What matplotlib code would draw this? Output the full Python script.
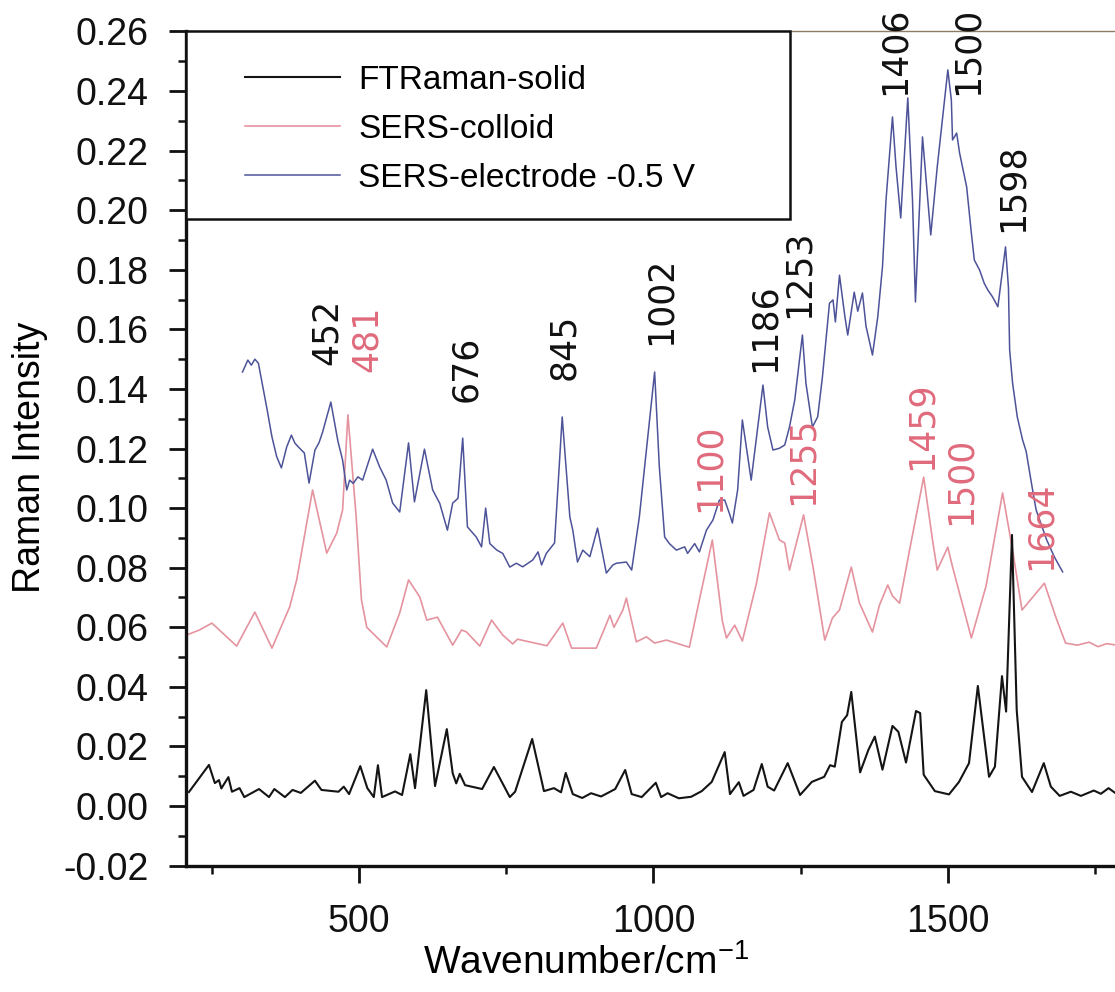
import matplotlib
matplotlib.use("Agg")
import matplotlib.pyplot as plt
from matplotlib.patches import Rectangle
from matplotlib.ticker import MultipleLocator, FixedLocator, FormatStrFormatter

plt.rcParams["font.family"] = ["Liberation Sans", "DejaVu Sans"]
plt.rcParams["axes.unicode_minus"] = False
plt.rcParams["mathtext.fontset"] = "custom"
plt.rcParams["mathtext.rm"] = "Liberation Sans"

# ---- spectra (wavenumber / cm-1, intensity) ----
solid_wn = [211, 245, 255, 262, 266, 278, 284, 297, 305, 330, 347, 356, 374, 387, 401,
            425, 436, 465, 474, 483, 502, 514, 525, 532, 539, 561, 573, 587, 595, 614,
            629, 649, 659, 665, 671, 680, 709, 729, 756, 765, 794, 814, 831, 843, 851,
            863, 879, 894, 911, 935, 952, 963, 980, 1004, 1013, 1024, 1043, 1064, 1082,
            1099, 1121, 1130, 1145, 1153, 1170, 1184, 1194, 1205, 1228, 1249, 1269, 1290,
            1300, 1308, 1320, 1329, 1336, 1351, 1365, 1376, 1389, 1406, 1416, 1429, 1446,
            1453, 1459, 1478, 1502, 1519, 1536, 1551, 1570, 1580, 1592, 1599, 1609, 1617,
            1626, 1643, 1663, 1675, 1690, 1709, 1726, 1748, 1760, 1773, 1787]
solid_int = [0.0047, 0.0138, 0.0077, 0.0087, 0.0059, 0.0097, 0.0048, 0.0060, 0.0030, 0.0057,
             0.0030, 0.0057, 0.0030, 0.0054, 0.0044, 0.0085, 0.0054, 0.0048, 0.0065, 0.0040,
             0.0134, 0.0060, 0.0030, 0.0137, 0.0030, 0.0049, 0.0037, 0.0174, 0.0060, 0.0389,
             0.0067, 0.0258, 0.0110, 0.0076, 0.0108, 0.0070, 0.0057, 0.0131, 0.0030, 0.0048,
             0.0225, 0.0050, 0.0060, 0.0046, 0.0111, 0.0040, 0.0027, 0.0043, 0.0032, 0.0057,
             0.0121, 0.0040, 0.0030, 0.0078, 0.0030, 0.0043, 0.0026, 0.0031, 0.0050, 0.0081,
             0.0181, 0.0040, 0.0080, 0.0034, 0.0054, 0.0141, 0.0065, 0.0052, 0.0144, 0.0037,
             0.0081, 0.0098, 0.0137, 0.0132, 0.0282, 0.0305, 0.0383, 0.0113, 0.0188, 0.0233,
             0.0122, 0.0269, 0.0249, 0.0146, 0.0319, 0.0312, 0.0105, 0.0050, 0.0039, 0.0081,
             0.0144, 0.0403, 0.0098, 0.0132, 0.0436, 0.0317, 0.0910, 0.0322, 0.0098, 0.0047,
             0.0144, 0.0065, 0.0034, 0.0048, 0.0034, 0.0052, 0.0041, 0.0060, 0.0040]

colloid_wn = [207, 229, 250, 292, 323, 352, 382, 394, 421, 445, 462, 472, 481, 495, 504,
              513, 547, 569, 584, 603, 615, 633, 659, 674, 682, 705, 725, 744, 761, 769,
              819, 846, 861, 903, 926, 933, 948, 954, 971, 988, 1002, 1022, 1061, 1078,
              1100, 1117, 1124, 1138, 1151, 1175, 1197, 1214, 1223, 1231, 1255, 1271, 1291,
              1304, 1316, 1336, 1350, 1372, 1384, 1398, 1406, 1418, 1435, 1459, 1474, 1482,
              1500, 1508, 1540, 1565, 1593, 1610, 1626, 1664, 1684, 1700, 1720, 1740, 1755,
              1770, 1787]
colloid_int = [0.0574, 0.0591, 0.0614, 0.0537, 0.0651, 0.0530, 0.0668, 0.0759, 0.1061, 0.0849,
               0.0916, 0.0994, 0.1313, 0.0971, 0.0692, 0.0600, 0.0534, 0.0648, 0.0759, 0.0702,
               0.0624, 0.0634, 0.0540, 0.0591, 0.0585, 0.0537, 0.0624, 0.0574, 0.0544, 0.0560,
               0.0538, 0.0614, 0.0530, 0.0530, 0.0640, 0.0600, 0.0658, 0.0698, 0.0551, 0.0568,
               0.0547, 0.0557, 0.0533, 0.0692, 0.0893, 0.0621, 0.0564, 0.0607, 0.0554, 0.0748,
               0.0984, 0.0893, 0.0883, 0.0792, 0.0977, 0.0803, 0.0557, 0.0631, 0.0658, 0.0802,
               0.0681, 0.0584, 0.0675, 0.0742, 0.0705, 0.0681, 0.0859, 0.1104, 0.0893, 0.0792,
               0.0869, 0.0803, 0.0564, 0.0739, 0.1051, 0.0859, 0.0658, 0.0748, 0.0631, 0.0547,
               0.0540, 0.0550, 0.0535, 0.0545, 0.0540]

electrode_wn = [302, 311, 317, 323, 329, 343, 352, 360, 368, 377, 385, 391, 399, 407, 415,
                425, 432, 438, 452, 464, 472, 479, 484, 490, 498, 506, 523, 535, 546, 557,
                569, 584, 594, 611, 625, 637, 650, 659, 668, 676, 684, 699, 708, 715, 722,
                734, 744, 756, 767, 778, 795, 804, 810, 818, 832, 845, 858, 863, 871, 880,
                892, 905, 920, 931, 937, 954, 963, 976, 988, 1002, 1010, 1019, 1027, 1039,
                1053, 1058, 1070, 1078, 1090, 1101, 1112, 1121, 1129, 1134, 1143, 1151, 1166,
                1186, 1194, 1203, 1214, 1223, 1231, 1240, 1253, 1259, 1270, 1279, 1287, 1299,
                1305, 1309, 1316, 1325, 1330, 1341, 1347, 1355, 1361, 1372, 1381, 1389, 1395,
                1406, 1412, 1420, 1432, 1440, 1445, 1457, 1471, 1482, 1500, 1506, 1508, 1515,
                1520, 1532, 1540, 1545, 1554, 1562, 1568, 1576, 1585, 1598, 1603, 1605, 1610,
                1618, 1627, 1633, 1642, 1650, 1668, 1681, 1695]
electrode_int = [0.1457, 0.1497, 0.1480, 0.1500, 0.1486, 0.1339, 0.1239, 0.1173, 0.1135, 0.1205,
                 0.1245, 0.1218, 0.1201, 0.1185, 0.1084, 0.1195, 0.1220, 0.1255, 0.1356, 0.1225,
                 0.1161, 0.1061, 0.1094, 0.1083, 0.1105, 0.1094, 0.1198, 0.1138, 0.1094, 0.1017,
                 0.0987, 0.1219, 0.1021, 0.1198, 0.1061, 0.1016, 0.0926, 0.1017, 0.1033, 0.1235,
                 0.0937, 0.0903, 0.0870, 0.1000, 0.0881, 0.0859, 0.0848, 0.0802, 0.0815, 0.0803,
                 0.0826, 0.0853, 0.0809, 0.0848, 0.0883, 0.1306, 0.0970, 0.0926, 0.0819, 0.0859,
                 0.0837, 0.0933, 0.0782, 0.0809, 0.0815, 0.0819, 0.0792, 0.0970, 0.1195, 0.1457,
                 0.1138, 0.0903, 0.0881, 0.0859, 0.0870, 0.0848, 0.0881, 0.0853, 0.0926, 0.0960,
                 0.1027, 0.1027, 0.0982, 0.0950, 0.1061, 0.1296, 0.1094, 0.1413, 0.1272, 0.1195,
                 0.1201, 0.1212, 0.1272, 0.1363, 0.1581, 0.1419, 0.1272, 0.1307, 0.1440, 0.1688,
                 0.1699, 0.1625, 0.1782, 0.1645, 0.1581, 0.1725, 0.1661, 0.1722, 0.1611, 0.1514,
                 0.1642, 0.1810, 0.2034, 0.2313, 0.2146, 0.1974, 0.2377, 0.2034, 0.1692, 0.2246,
                 0.1917, 0.2145, 0.2471, 0.2370, 0.2236, 0.2259, 0.2192, 0.2078, 0.1923, 0.1833,
                 0.1799, 0.1754, 0.1732, 0.1709, 0.1676, 0.1877, 0.1740, 0.1531, 0.1420, 0.1306,
                 0.1229, 0.1191, 0.1084, 0.0994, 0.0893, 0.0836, 0.0786]

series_names = ["FTRaman-solid", "SERS-colloid", "SERS-electrode -0.5 V"]

# ---- band assignments written above the peaks ----
electrode_bands = [452, 676, 845, 1002, 1186, 1253, 1406, 1500, 1598]
electrode_band_x = [446, 682, 848, 1013, 1188, 1246, 1409, 1534, 1610]
electrode_band_y = [0.148, 0.1356, 0.143, 0.1548, 0.1457, 0.1638, 0.2387, 0.2387, 0.1927]
colloid_bands = [481, 1100, 1255, 1459, 1500, 1664]
colloid_band_x = [513, 1095, 1253, 1456, 1521, 1657]
colloid_band_y = [0.1457, 0.0987, 0.101, 0.1128, 0.0943, 0.0792]

C_SOLID = "#141414"
C_COLLOID = "#e4939f"
C_ELECTRODE = "#4d5398"
C_BAND_RED = "#e06a7c"
BAND_FONT = ["DejaVu Sans"]

fig = plt.figure(figsize=(11.15, 9.92), dpi=100)
ax = fig.add_axes([0.16682, 0.12742, 0.8332, 0.84083])

ax.plot(colloid_wn, colloid_int, color=C_COLLOID, lw=1.2, zorder=2, label=series_names[1])
ax.plot(electrode_wn, electrode_int, color=C_ELECTRODE, lw=1.1, zorder=3, label=series_names[2])
ax.plot(solid_wn, solid_int, color=C_SOLID, lw=1.5, zorder=4, label=series_names[0])

ax.set_xlim(206, 1784)
ax.set_ylim(-0.02, 0.26)

ax.xaxis.set_major_locator(FixedLocator([500, 1000, 1500]))
ax.xaxis.set_minor_locator(FixedLocator([250, 750, 1250, 1750]))
ax.yaxis.set_major_locator(MultipleLocator(0.02))
ax.yaxis.set_minor_locator(MultipleLocator(0.01))
ax.yaxis.set_major_formatter(FormatStrFormatter("%.2f"))

ax.tick_params(which="both", direction="out", top=False, right=False, colors="#111111")
ax.tick_params(axis="y", which="major", length=12, width=2.0, labelsize=27, pad=15)
ax.tick_params(axis="y", which="minor", length=6, width=1.8)
ax.tick_params(axis="x", which="major", length=12, width=2.0, labelsize=27, pad=16)
ax.tick_params(axis="x", which="minor", length=6, width=1.8)

for side in ("left", "bottom"):
    ax.spines[side].set_linewidth(2.4)
    ax.spines[side].set_color("#111111")
ax.spines["right"].set_visible(False)
ax.spines["top"].set_linewidth(1.0)
ax.spines["top"].set_color("#8c7b68")

ax.set_ylabel("Raman Intensity", fontsize=27)
ax.yaxis.set_label_coords(-0.149, 0.49)
ax.set_xlabel("Wavenumber/cm$^{-1}$", fontsize=28)
ax.xaxis.set_label_coords(0.43, -0.094)

for wn, x, y in zip(electrode_bands, electrode_band_x, electrode_band_y):
    ax.text(x, y, str(wn), rotation=90, ha="center", va="bottom", fontsize=25,
            family=BAND_FONT, color="#111111", zorder=6, clip_on=False)
for wn, x, y in zip(colloid_bands, colloid_band_x, colloid_band_y):
    ax.text(x, y, str(wn), rotation=90, ha="center", va="bottom", fontsize=25,
            family=BAND_FONT, color=C_BAND_RED, zorder=6, clip_on=False)

# legend box in the upper-left corner
ax.add_patch(Rectangle((0, 0.7752), 0.650, 0.2248, transform=ax.transAxes,
                       facecolor="white", edgecolor="#111111", lw=1.8, zorder=7,
                       clip_on=False))
handles, labels = ax.get_legend_handles_labels()
order = [labels.index(n) for n in series_names]
leg = ax.legend([handles[i] for i in order], [labels[i] for i in order],
                loc="upper left", bbox_to_anchor=(0.0635, 0.960), frameon=False,
                borderpad=0, borderaxespad=0, fontsize=24, handlelength=2.85,
                handletextpad=0.55, labelspacing=0.54)
leg.set_zorder(8)

fig.savefig("out.png", dpi=100)
